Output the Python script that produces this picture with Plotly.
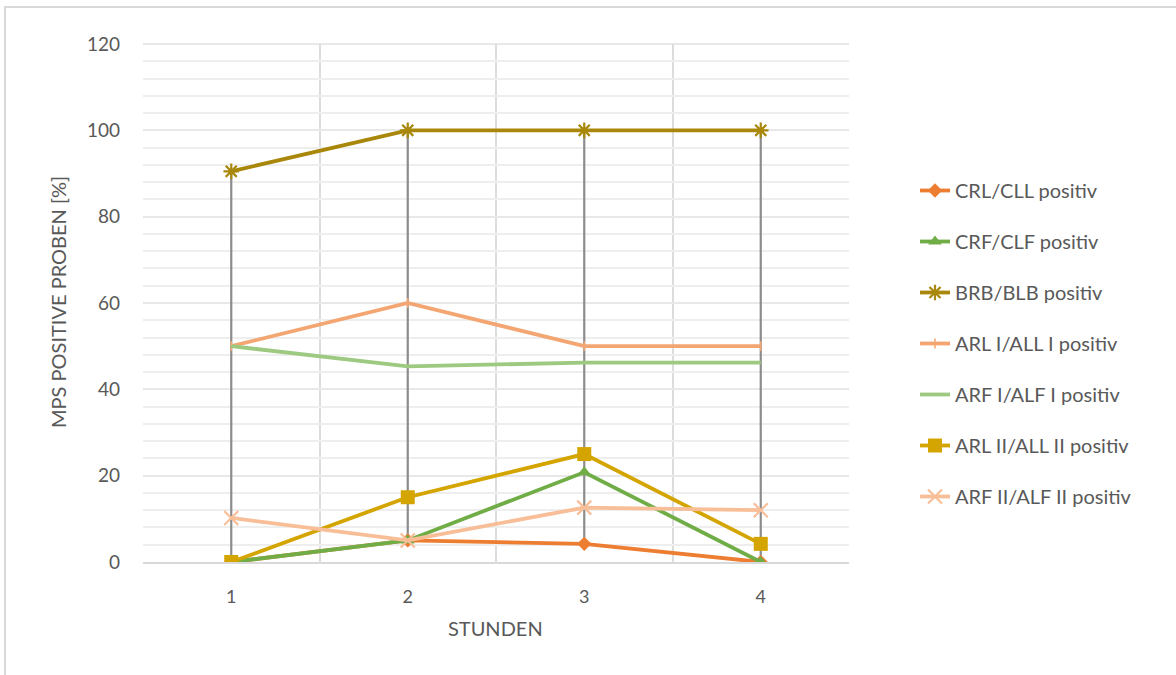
import plotly.graph_objects as go

# Hours of sampling
stunden = [1, 2, 3, 4]

# Share of MPS-positive samples per site [%]
crl_cll = [0, 5, 4.2, 0]
crf_clf = [0, 5, 20.8, 0]
brb_blb = [90.5, 100, 100, 100]
arl1_all1 = [50, 60, 50, 50]
arf1_alf1 = [50, 45.3, 46.2, 46.2]
arl2_all2 = [0, 15, 25, 4.2]
arf2_alf2 = [10.2, 5, 12.6, 12]

series = [
    ("CRL/CLL positiv", crl_cll, "#ED7D31", dict(symbol="diamond", size=11)),
    ("CRF/CLF positiv", crf_clf, "#70AD47", dict(symbol="triangle-up", size=12)),
    ("BRB/BLB positiv", brb_blb, "#A8870A",
     dict(symbol="asterisk-open", size=13, line=dict(width=2.2, color="#A8870A"))),
    ("ARL I/ALL I positiv", arl1_all1, "#F4A672",
     dict(symbol="line-ns-open", size=7, line=dict(width=1.5, color="#F4A672"))),
    ("ARF I/ALF I positiv", arf1_alf1, "#9DCA80", None),
    ("ARL II/ALL II positiv", arl2_all2, "#D4A500", dict(symbol="square", size=14)),
    ("ARF II/ALF II positiv", arf2_alf2, "#F7BE98",
     dict(symbol="x-thin-open", size=14, line=dict(width=2.2, color="#F7BE98"))),
]

fig = go.Figure()

# High-low lines spanning all series at each hour
all_vals = [s[1] for s in series]
hl_x, hl_y = [], []
for i, h in enumerate(stunden):
    col = [v[i] for v in all_vals]
    hl_x += [h, h, None]
    hl_y += [max(col), min(col), None]
fig.add_trace(go.Scatter(x=hl_x, y=hl_y, mode="lines",
                         line=dict(color="#8C8C8C", width=2.2),
                         showlegend=False, hoverinfo="skip"))

for idx, (name, vals, color, marker) in enumerate(series):
    if marker is None:
        fig.add_trace(go.Scatter(x=stunden, y=vals, name=name, mode="lines",
                                 line=dict(color=color, width=3.8),
                                 legendgroup=f"g{idx}"))
    else:
        m = dict(marker)
        m.setdefault("color", color)
        fig.add_trace(go.Scatter(x=stunden, y=vals, name=name, mode="lines+markers",
                                 line=dict(color=color, width=3.8), marker=m,
                                 legendgroup=f"g{idx}"))

L, R, T, B = 143, 327, 44, 113
W, H = 1176, 675
pw, ph = W - L - R, H - T - B

def px_x(p):
    return (p - L) / pw

def px_y(p):
    return (H - B - p) / ph

font_family = "Lato, 'Open Sans', sans-serif"
text_color = "#595959"

fig.update_layout(
    width=W, height=H,
    margin=dict(l=L, r=R, t=T, b=B),
    paper_bgcolor="white", plot_bgcolor="white",
    font=dict(family=font_family, color=text_color, size=17),
    showlegend=True,
    legend=dict(x=px_x(915), y=px_y(171), xanchor="left", yanchor="top",
                font=dict(size=20, color=text_color),
                traceorder="grouped", tracegroupgap=22,
                bgcolor="rgba(0,0,0,0)"),
    xaxis=dict(range=[0.5, 4.5], tickvals=stunden, ticktext=[str(s) for s in stunden],
               showgrid=False, zeroline=False, showline=True,
               linecolor="#D9D9D9", linewidth=2, ticks="",
               ticklabelstandoff=17,
               tickfont=dict(size=18, color=text_color),
               minor=dict(tickvals=[0.5, 1.5, 2.5, 3.5, 4.5], showgrid=True,
                          gridcolor="#DCDCDC", gridwidth=2, ticks="")),
    yaxis=dict(range=[0, 120], tickvals=[0, 20, 40, 60, 80, 100, 120],
               showgrid=True, gridcolor="#E8E8E8", gridwidth=2,
               zeroline=False, showline=False, ticks="",
               ticklabelstandoff=22,
               tickfont=dict(size=19, color=text_color),
               minor=dict(dtick=4, tick0=0, showgrid=True,
                          gridcolor="#EEEEEE", gridwidth=1.5, ticks="")),
    annotations=[
        dict(text="MPS POSITIVE PROBEN [%]", xref="paper", yref="paper",
             x=px_x(58), y=px_y(302), xanchor="center", yanchor="middle",
             textangle=-90, showarrow=False, font=dict(size=20, color=text_color)),
        dict(text="STUNDEN", xref="paper", yref="paper",
             x=px_x(495), y=px_y(628), xanchor="center", yanchor="middle",
             showarrow=False, font=dict(size=20, color=text_color)),
    ],
    shapes=[
        dict(type="rect", xref="paper", yref="paper",
             x0=px_x(5), x1=px_x(1200), y0=px_y(7), y1=px_y(720),
             line=dict(color="#D9D9D9", width=2), fillcolor="rgba(0,0,0,0)", layer="below"),
        dict(type="line", xref="paper", yref="paper",
             x0=0, x1=1, y0=1, y1=1, line=dict(color="#E8E8E8", width=2), layer="below"),
    ],
)

fig.write_html("out.html")
